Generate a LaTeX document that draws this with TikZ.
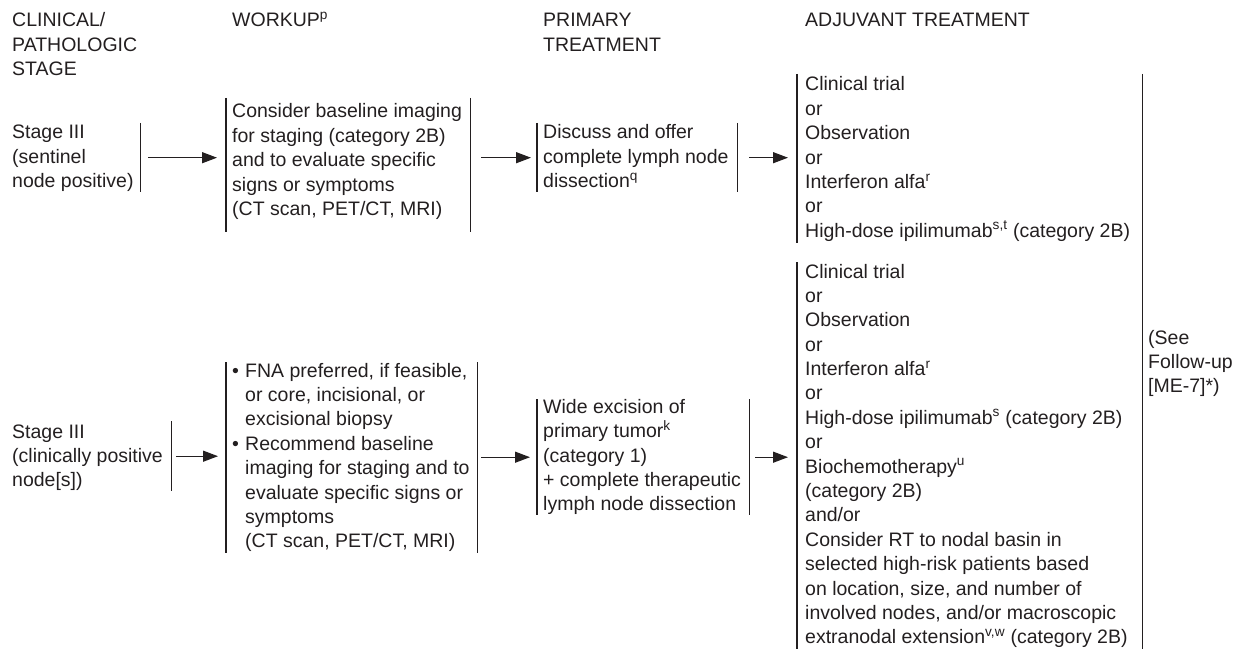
\documentclass[tikz,border=0pt]{standalone}
\usepackage{fontspec}
\setmainfont{Liberation Sans}
\usetikzlibrary{arrows.meta}
\definecolor{ink}{RGB}{35,31,32}
% a block of left-aligned lines whose baseline is that of its first line
\newcommand{\rows}[1]{\begin{tabular}[t]{@{}l@{}}#1\end{tabular}}
\newcommand{\bul}{\makebox[13pt][l]{•}}
\newcommand{\ind}{\hspace*{13pt}}
\newcommand{\body}{\fontsize{19.5}{24.4}\selectfont}

\begin{document}
\begin{tikzpicture}[x=1pt,y=-1pt,
  txt/.style={anchor=base west, inner sep=0pt, text=ink, font=\body},
  box/.style={anchor=north west, inner sep=0pt, draw=none},
  bar/.style={draw=ink, line width=1.2pt},
  arr/.style={draw=ink, line width=1.3pt, -{Triangle[length=15pt,width=11pt]}}]
\useasboundingbox (0,0) rectangle (1237,655);

% column headings
\node[txt] (h1) at (12,27) {\rows{CLINICAL/\\PATHOLOGIC\\STAGE}};
\node[txt] (h2) at (232,27) {WORKUP\textsuperscript{p}};
\node[txt] (h3) at (543,27) {\rows{PRIMARY\\TREATMENT}};
\node[txt] (h4) at (805,27) {ADJUVANT TREATMENT};

% frames: only their left and right sides are drawn
\node[box, minimum width=128pt, minimum height=69pt]  (s1) at (12,123) {};
\node[box, minimum width=244pt, minimum height=134pt] (w1) at (226,98) {};
\node[box, minimum width=200pt, minimum height=69pt]  (p1) at (537,123) {};
\node[box, minimum width=345pt, minimum height=169pt] (j1) at (797,74) {};

\node[box, minimum width=159pt, minimum height=70pt]  (s2) at (12,421) {};
\node[box, minimum width=251pt, minimum height=191pt] (w2) at (226,362) {};
\node[box, minimum width=212pt, minimum height=116pt] (p2) at (537,399) {};
\node[box, minimum width=345pt, minimum height=387pt] (j2) at (797,262) {};

\draw[bar] (s1.north east) -- (s1.south east);
\draw[bar] (w1.north west) -- (w1.south west);
\draw[bar] (w1.north east) -- (w1.south east);
\draw[bar] (p1.north west) -- (p1.south west);
\draw[bar] (p1.north east) -- (p1.south east);
\draw[bar] (j1.north west) -- (j1.south west);

\draw[bar] (s2.north east) -- (s2.south east);
\draw[bar] (w2.north west) -- (w2.south west);
\draw[bar] (w2.north east) -- (w2.south east);
\draw[bar] (p2.north west) -- (p2.south west);
\draw[bar] (p2.north east) -- (p2.south east);
\draw[bar] (j2.north west) -- (j2.south west);
% shared right side of both adjuvant frames
\draw[bar] (j1.north east) -- (j2.south east);

% texts
\node[txt] (s1t) at (12,139) {\rows{Stage III\\(sentinel\\node positive)}};
\node[txt] (w1t) at (232,118) {\rows{Consider baseline imaging\\for staging (category 2B)\\and to evaluate specific\\signs or symptoms\\(CT scan, PET/CT, MRI)}};
\node[txt] (p1t) at (543,139) {\rows{Discuss and offer\\complete lymph node\\dissection\textsuperscript{q}}};
\node[txt] (j1t) at (805,91) {\rows{Clinical trial\\or\\Observation\\or\\Interferon alfa\textsuperscript{r}\\or\\High-dose ipilimumab\textsuperscript{s,t} (category 2B)}};

\node[txt] (s2t) at (12,438) {\rows{Stage III\\(clinically positive\\node[s])}};
\node[txt] (w2t) at (232,377) {\rows{\bul FNA preferred, if feasible,\\\ind or core, incisional, or\\\ind excisional biopsy\\\bul Recommend baseline\\\ind imaging for staging and to\\\ind evaluate specific signs or\\\ind symptoms\\\ind (CT scan, PET/CT, MRI)}};
\node[txt] (p2t) at (543,413) {\rows{Wide excision of\\primary tumor\textsuperscript{k}\\(category 1)\\+ complete therapeutic\\lymph node dissection}};
\node[txt] (j2t) at (805,278) {\rows{Clinical trial\\or\\Observation\\or\\Interferon alfa\textsuperscript{r}\\or\\High-dose ipilimumab\textsuperscript{s} (category 2B)\\or\\Biochemotherapy\textsuperscript{u}\\(category 2B)\\and/or\\Consider RT to nodal basin in\\selected high-risk patients based\\on location, size, and number of\\involved nodes, and/or macroscopic\\extranodal extension\textsuperscript{v,w} (category 2B)}};

\node[txt] (fu) at (1148,344) {\rows{(See\\Follow-up\\{[ME-7]*)}}};

% connectors
\draw[arr, shorten <=8pt, shorten >=9pt] (s1.east) -- (w1.west |- s1.east);
\draw[arr, shorten <=11pt, shorten >=6pt] (w1.east |- p1.west) -- (p1.west);
\draw[arr, shorten <=12pt, shorten >=9pt] (p1.east) -- (j1.west |- p1.east);

\draw[arr, shorten <=5pt, shorten >=8pt] (s2.east) -- (w2.west |- s2.east);
\draw[arr, shorten <=4pt, shorten >=7pt] (w2.east |- p2.west) -- (p2.west);
\draw[arr, shorten <=6pt, shorten >=9pt] (p2.east) -- (j2.west |- p2.east);
\end{tikzpicture}
\end{document}
